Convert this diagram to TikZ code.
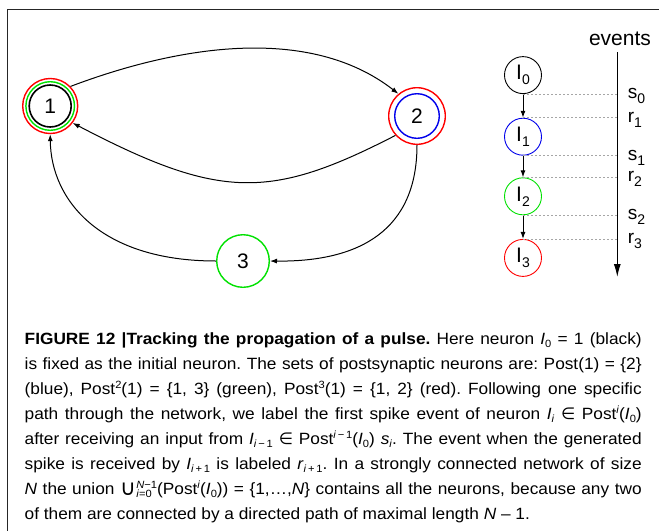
\documentclass[tikz,border=0pt]{standalone}
\usepackage{fontspec}
\setmainfont{Liberation Sans}
\newfontfamily\capfont[FakeStretch=1.06]{Liberation Sans}
\newfontfamily\symfont{DejaVu Sans}
\usepackage{graphicx}
\usetikzlibrary{arrows.meta}
\definecolor{myred}{RGB}{255,0,0}
\definecolor{mygreen}{RGB}{0,225,0}
\definecolor{myblue}{RGB}{0,0,235}
\newlength\mycapw
\newcommand\capline[1]{\settowidth\mycapw{#1}\ifdim\mycapw>617pt\resizebox{617pt}{\height}{#1}\else\makebox[617pt][s]{#1}\fi}
\newcommand\mysub[1]{\raisebox{-5pt}{\fontsize{14}{14}\selectfont #1}}
\newcommand\csub[1]{\raisebox{-3.5pt}{\fontsize{10.5}{10.5}\selectfont #1}}
\newcommand\csup[1]{\raisebox{5.8pt}{\fontsize{10.5}{10.5}\selectfont #1}}
\newsavebox\mysupbox
\newsavebox\mysubbox
\newcommand\supsub[2]{\sbox\mysupbox{\csup{#1}}\sbox\mysubbox{\csub{#2}}\ifdim\wd\mysupbox>\wd\mysubbox\rlap{\usebox\mysubbox}\usebox\mysupbox\else\rlap{\usebox\mysupbox}\usebox\mysubbox\fi}
\newcommand\elem{{\symfont ∈}}
\newcommand\bigunion{\raisebox{-1pt}{\resizebox{!}{12.5pt}{\symfont ∪}}\kern0.6pt}
\begin{document}
\begin{tikzpicture}[x=1pt,y=-1pt,
  arr/.style={-{Latex[length=7pt,width=5pt]}, line width=1pt},
  ring/.style={circle, inner sep=0pt, line width=1.4pt},
  big/.style={font=\fontsize{21}{21}\selectfont},
  chain/.style={circle, draw, inner sep=0pt, minimum size=37pt, line width=0.9pt, font=\fontsize{21}{21}\selectfont},
  lbl/.style={inner sep=0pt, anchor=base west, font=\fontsize{19}{19}\selectfont},
  guide/.style={gray!70, dashed, dash pattern=on 2pt off 2pt, line width=0.7pt},
  capl/.style={inner sep=0pt, anchor=base west, font=\capfont\fontsize{16.3}{18}\selectfont\frenchspacing}]
\useasboundingbox (0,0) rectangle (659,531);
% frame
\draw[line width=1.1pt, black!85] (659,9.8) -- (7.9,9.8) -- (7.9,531);
% network nodes
\node[ring, draw=myred, minimum size=55pt, big] (n1) at (50.2,106) {1};
\draw[mygreen, line width=1.4pt] (n1.center) circle[radius=24.3];
\draw[black, line width=1.6pt] (n1.center) circle[radius=21];
\node[ring, draw=myred, minimum size=56.6pt, big] (n2) at (417,116) {2};
\draw[myblue, line width=1.4pt] (n2.center) circle[radius=22.3];
\node[ring, draw=mygreen, minimum size=52.6pt, big] (n3) at (243,261) {3};
% network edges
\draw[arr] (n1.44) .. controls (180,45) and (310,25) .. (n2.130);
\draw[arr] (n2.222) .. controls (270,200) and (220,200) .. (n1.323);
\draw[arr] (n2.south) .. controls (417,230) and (360,262) .. (n3.east);
\draw[arr] (n3.west) .. controls (100,261) and (51,200) .. (n1.south);
% chain
\node[chain, draw=black] (I0) at (523,75.1) {I\mysub{0}};
\node[chain, draw=myblue] (I1) at (523,136.7) {I\mysub{1}};
\node[chain, draw=mygreen] (I2) at (523,196.3) {I\mysub{2}};
\node[chain, draw=myred] (I3) at (523,257.9) {I\mysub{3}};
\draw[arr] (I0) -- (I1);
\draw[arr] (I1) -- (I2);
\draw[arr] (I2) -- (I3);
% events axis
\coordinate (evtop) at (617.3,52);
\coordinate (evbot) at (617.3,277);
\node[inner sep=0pt, anchor=base, font=\fontsize{21}{21}\selectfont] (evlabel) at (620,45) {events};
\draw[-{Latex[length=13pt,width=7pt]}, line width=1.1pt] (evtop) -- (evbot);
% guide lines and labels
\draw[guide] (I0.south) -- (I0.south -| evtop);
\draw[guide] (I1.north) -- (I1.north -| evtop);
\draw[guide] (I1.south) -- (I1.south -| evtop);
\draw[guide] (I2.north) -- (I2.north -| evtop);
\draw[guide] (I2.south) -- (I2.south -| evtop);
\draw[guide] (I3.north) -- (I3.north -| evtop);
\node[lbl] (ls0) at ([shift={(10.3,4.5)}]I0.south -| evtop) {s\mysub{0}};
\node[lbl] (lr1) at ([shift={(10.3,4.5)}]I1.north -| evtop) {r\mysub{1}};
\node[lbl] (ls1) at ([shift={(10.3,4.5)}]I1.south -| evtop) {s\mysub{1}};
\node[lbl] (lr2) at ([shift={(10.3,4.5)}]I2.north -| evtop) {r\mysub{2}};
\node[lbl] (ls2) at ([shift={(10.3,4.5)}]I2.south -| evtop) {s\mysub{2}};
\node[lbl] (lr3) at ([shift={(10.3,4.5)}]I3.north -| evtop) {r\mysub{3}};
% caption
\node[capl] (c1) at (24.5,344) {\capline{\textbf{FIGURE 12 |Tracking the propagation of a pulse.} Here neuron \textit{I}\csub{0} = 1 (black)}};
\node[capl] (c2) at (24.5,369) {\capline{is fixed as the initial neuron. The sets of postsynaptic neurons are: Post(1) = \{2\}}};
\node[capl] (c3) at (24.5,394) {\capline{(blue), Post\csup{2}(1) = \{1, 3\} (green), Post\csup{3}(1) = \{1, 2\} (red). Following one specific}};
\node[capl] (c4) at (24.5,419) {\capline{path through the network, we label the first spike event of neuron \textit{I}\csub{\textit{i}} \elem{} Post\csup{\textit{i}}(\textit{I}\csub{0})}};
\node[capl] (c5) at (24.5,444) {\capline{after receiving an input from \textit{I}\csub{\textit{i}\,−\,1} \elem{} Post\csup{\textit{i}\,−\,1}(\textit{I}\csub{0}) \textit{s}\csub{\textit{i}}. The event when the generated}};
\node[capl] (c6) at (24.5,469) {\capline{spike is received by \textit{I}\csub{\textit{i}\,+\,1} is labeled \textit{r}\csub{\textit{i}\,+\,1}. In a strongly connected network of size}};
\node[capl] (c7) at (24.5,494) {\capline{\textit{N} the union \bigunion\supsub{\textit{N}−1}{\textit{i}=0}(Post\csup{\textit{i}}(\textit{I}\csub{0})) = \{1,…,\textit{N}\} contains all the neurons, because any two}};
\node[capl] (c8) at (24.5,519) {of them are connected by a directed path of maximal length \textit{N} – 1.};
\end{tikzpicture}
\end{document}
